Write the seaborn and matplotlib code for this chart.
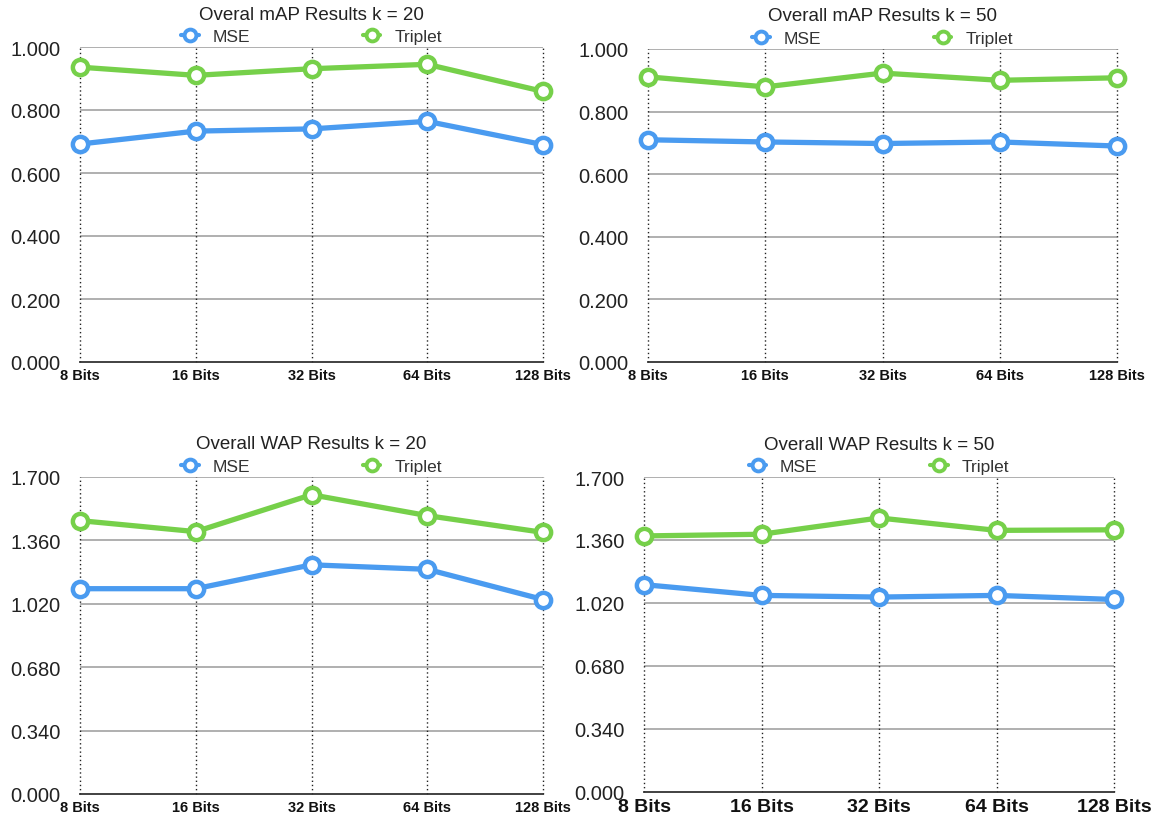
import numpy as np
import pandas as pd
import seaborn as sns
import matplotlib.pyplot as plt
from matplotlib.lines import Line2D

bits = ['8 Bits', '16 Bits', '32 Bits', '64 Bits', '128 Bits']
series = ['MSE', 'Triplet']

# values
map_k20_mse = [0.692, 0.733, 0.740, 0.764, 0.690]
map_k20_triplet = [0.936, 0.910, 0.931, 0.945, 0.859]
map_k50_mse = [0.710, 0.703, 0.698, 0.703, 0.690]
map_k50_triplet = [0.911, 0.879, 0.923, 0.900, 0.908]
wap_k20_mse = [1.101, 1.101, 1.229, 1.205, 1.043]
wap_k20_triplet = [1.466, 1.407, 1.605, 1.493, 1.403]
wap_k50_mse = [1.119, 1.061, 1.052, 1.061, 1.039]
wap_k50_triplet = [1.382, 1.391, 1.479, 1.412, 1.415]

map_ticks = [0.0, 0.2, 0.4, 0.6, 0.8, 1.0]
wap_ticks = [0.0, 0.34, 0.68, 1.02, 1.36, 1.7]

titles = ['Overal mAP Results k = 20', 'Overall mAP Results k = 50',
          'Overall WAP Results k = 20', 'Overall WAP Results k = 50']

colors = {'MSE': '#4A9BF0', 'Triplet': '#76D04A'}

sns.set_theme(style='white')
plt.rcParams['font.family'] = ['Liberation Sans', 'DejaVu Sans']

W, H = 1151, 829
fig = plt.figure(figsize=(W / 100, H / 100), dpi=100)

# (left, right, top, bottom) in pixels
boxes = [(80, 543, 48, 363), (648, 1117, 50, 363),
         (80, 543, 478, 795), (644, 1114, 478, 793)]
panels = [(map_k20_mse, map_k20_triplet, map_ticks),
          (map_k50_mse, map_k50_triplet, map_ticks),
          (wap_k20_mse, wap_k20_triplet, wap_ticks),
          (wap_k50_mse, wap_k50_triplet, wap_ticks)]


def make_df(mse, triplet):
    return pd.DataFrame({
        'pos': list(range(len(bits))) * 2,
        'Bits': bits * 2,
        'value': list(mse) + list(triplet),
        'Loss': ['MSE'] * len(bits) + ['Triplet'] * len(bits),
    })


for i, ((l, r, t, b), (mse, trip, yticks)) in enumerate(zip(boxes, panels)):
    ax = fig.add_axes([l / W, 1 - b / H, (r - l) / W, (b - t) / H])
    df = make_df(mse, trip)

    sns.lineplot(data=df, x='pos', y='value', hue='Loss', palette=colors,
                 marker='o', markersize=11, markerfacecolor='white',
                 markeredgewidth=3.2, linewidth=3.8, ax=ax, legend=False,
                 zorder=5)
    for ln in ax.lines:
        ln.set_markeredgecolor(ln.get_color())
        ln.set_clip_on(False)

    ax.set_xlim(0, len(bits) - 1)
    ax.set_ylim(yticks[0], yticks[-1])
    ax.set_yticks(yticks)
    ax.set_yticklabels([f'{v:.3f}' for v in yticks], fontsize=14.5, color='#222222')
    ax.set_xticks(range(len(bits)))
    ax.set_xticklabels(bits, fontsize=14 if i == 3 else 10.5, fontweight='bold',
                       color='#111111')
    ax.tick_params(axis='y', length=0, pad=14)
    ax.tick_params(axis='x', length=0, pad=4)
    ax.set_xlabel('')
    ax.set_ylabel('')

    # grid: solid grey horizontals, dotted verticals
    for v in yticks[1:]:
        ax.axhline(v, color='#9a9a9a', linewidth=1.1, zorder=1)
    for p in range(len(bits)):
        ax.axvline(p, color='#222222', linewidth=1.0, linestyle=(0, (1, 2)),
                   zorder=1, clip_on=False)

    for side in ['top', 'right', 'left']:
        ax.spines[side].set_visible(False)
    ax.spines['bottom'].set_color('#333333')
    ax.spines['bottom'].set_linewidth(1.3)

    ax.text(0.5, 1 + 33 / (b - t), titles[i], transform=ax.transAxes,
            ha='center', va='center', fontsize=13.5, color='#222222')

    handles = [Line2D([], [], color=colors[s], marker='o', markersize=8.5,
                      markerfacecolor='white', markeredgewidth=2.8,
                      markeredgecolor=colors[s], linewidth=3) for s in series]
    ax.legend(handles, series, ncol=2, loc='center',
              bbox_to_anchor=(0.5, 1 + 11 / (b - t)), frameon=False,
              fontsize=12.5, handlelength=1.0, handletextpad=0.8,
              columnspacing=6.5, borderaxespad=0, borderpad=0,
              labelcolor='#333333')

fig.savefig('out.png', dpi=100)
